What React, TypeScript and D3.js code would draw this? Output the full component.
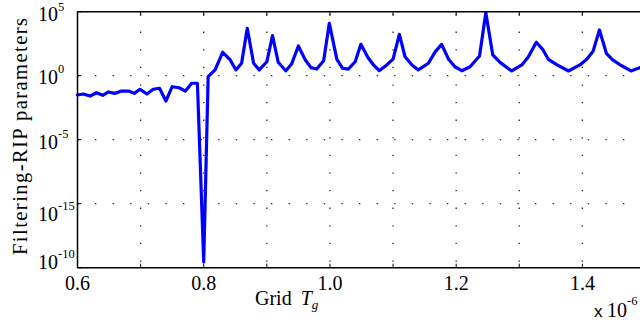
import React from "react";
import * as d3 from "d3";

const W = 640;
const H = 322;

// Grid T_g (x 10^-6)
const xValues = [
  0.6, 0.609, 0.62, 0.63, 0.64, 0.649, 0.659, 0.67, 0.681, 0.69, 0.699, 0.71, 0.72, 0.73, 0.74,
  0.75, 0.761, 0.771, 0.781, 0.79, 0.8, 0.807, 0.818, 0.83, 0.842, 0.851, 0.86, 0.869, 0.879,
  0.888, 0.9, 0.909, 0.918, 0.93, 0.939, 0.95, 0.961, 0.97, 0.979, 0.99, 0.999, 1.011, 1.02,
  1.029, 1.04, 1.049, 1.06, 1.069, 1.078, 1.09, 1.1, 1.11, 1.119, 1.13, 1.14, 1.156, 1.167,
  1.177, 1.188, 1.198, 1.209, 1.222, 1.237, 1.247, 1.258, 1.27, 1.288, 1.304, 1.314, 1.327,
  1.337, 1.346, 1.36, 1.378, 1.396, 1.407, 1.417, 1.427, 1.438, 1.448, 1.462, 1.477, 1.491, 1.5,
];
// log10 of the Filtering-RIP parameter
const log10Values = [
  -1.51, -1.43, -1.59, -1.33, -1.53, -1.27, -1.38, -1.2, -1.2, -1.38, -1.06, -1.43, -1.06, -0.98,
  -1.98, -0.86, -0.94, -1.2, -0.59, -0.59, -14.55, -0.08, 0.45, 1.83, 1.23, 0.45, 0.97, 3.7, 0.97,
  0.45, 1.09, 3.13, 1.05, 0.39, 0.89, 2.32, 1.23, 0.63, 0.52, 1.17, 4.09, 1.28, 0.58, 0.52, 1.09,
  2.45, 1.44, 0.84, 0.39, 0.84, 1.3, 3.23, 1.48, 0.84, 0.45, 0.97, 1.88, 2.45, 1.28, 0.7, 0.39,
  0.7, 1.54, 4.92, 1.62, 1.02, 0.37, 0.84, 1.44, 2.61, 2.06, 1.28, 0.84, 0.37, 0.84, 1.28, 1.92,
  3.57, 1.75, 1.23, 0.78, 0.37, 0.63, 0.8,
];

const xTickValues = [0.6, 0.7, 0.8, 0.9, 1.0, 1.1, 1.2, 1.3, 1.4, 1.5];
const xTickLabels = ["0.6", "", "0.8", "", "1.0", "", "1.2", "", "1.4", ""];
const yTickValues = [1e5, 1, 1e-5, 1e-10, 1e-15];
const yTickExponents = ["5", "0", "-5", "-15", "-10"];

const SERIF = "Liberation Serif, Times New Roman, Tinos, DejaVu Serif, Noto Serif, serif";
const SANS = "Liberation Sans, Arial, sans-serif";

export default function App() {
  const left = 77.5;
  const top = 11.7;
  const bottom = 267.7;
  const x = d3.scaleLinear().domain([0.6, 1.5]).range([left, 645.5]);
  const y = d3.scaleLog().domain([1e-15, 1e5]).range([bottom, top]);

  const data = xValues.map((v, i) => ({ x: v, y: Math.pow(10, log10Values[i]) }));
  const line = d3
    .line<{ x: number; y: number }>()
    .x((d) => x(d.x))
    .y((d) => y(d.y));

  const labelDy = [9.5, 8.3, 9, 17.3, 1.3];
  const supDy = [-10, -11, -11, -11, -11];
  const dots = "1.3 16.3";
  const serifStyle = { fontFamily: SERIF };

  return (
    <svg
      width={W}
      height={H}
      style={{ position: "absolute", left: 0, top: 0, background: "#fff" }}
    >
      <rect x={0} y={0} width={W} height={H} fill="#fff" />
      {xTickValues.slice(1).map((t) => (
        <line
          key={"vg" + t}
          x1={x(t)}
          x2={x(t)}
          y1={bottom}
          y2={top}
          stroke="#222"
          strokeWidth={1.3}
          strokeDasharray={dots}
          strokeDashoffset={-6}
        />
      ))}
      {yTickValues.slice(1, 4).map((t) => (
        <line
          key={"hg" + t}
          x1={left}
          x2={W}
          y1={y(t)}
          y2={y(t)}
          stroke="#222"
          strokeWidth={1.3}
          strokeDasharray={dots}
          strokeDashoffset={-17.5}
        />
      ))}
      <path
        d={line(data) || ""}
        fill="none"
        stroke="#0000ff"
        strokeWidth={3.2}
        strokeLinejoin="round"
        strokeLinecap="round"
      />
      <line x1={left} x2={left} y1={top} y2={bottom} stroke="#000" strokeWidth={1.5} />
      <line x1={left} x2={W} y1={bottom} y2={bottom} stroke="#000" strokeWidth={1.5} />
      <line x1={left} x2={W} y1={top} y2={top} stroke="#000" strokeWidth={1.5} />
      {xTickValues.map((t) => (
        <g key={"xt" + t}>
          <line x1={x(t)} x2={x(t)} y1={bottom} y2={bottom - 4} stroke="#000" strokeWidth={1} />
          <line x1={x(t)} x2={x(t)} y1={top} y2={top + 4} stroke="#000" strokeWidth={1} />
        </g>
      ))}
      {yTickValues.map((t) => (
        <line key={"yt" + t} x1={left} x2={left + 4} y1={y(t)} y2={y(t)} stroke="#000" strokeWidth={1} />
      ))}
      {xTickValues.map((t, i) =>
        xTickLabels[i] ? (
          <text
            key={"xl" + t}
            x={x(t)}
            y={290}
            textAnchor="middle"
            style={serifStyle}
            fontSize={20}
            fill="#000"
          >
            {xTickLabels[i]}
          </text>
        ) : null
      )}
      {yTickValues.map((t, i) => (
        <text key={"yl" + t} x={38} y={y(t) + labelDy[i]} style={serifStyle} fontSize={20} fill="#000">
          10
          <tspan fontSize={12.5} dy={supDy[i]}>
            {yTickExponents[i]}
          </tspan>
        </text>
      ))}
      <text x={255} y={305} style={serifStyle} fontSize={20} fill="#000">
        Grid
        <tspan dx={9} fontStyle="italic">T</tspan>
        <tspan fontStyle="italic" fontSize={13} dy={4}>
          g
        </tspan>
      </text>
      <text x={594} y={316.5} style={{ fontFamily: SANS }} fontSize={17} fill="#000">
        x
      </text>
      <text x={607} y={316.5} style={serifStyle} fontSize={20} fill="#000">
        10
        <tspan fontSize={12.5} dy={-11.5}>
          -6
        </tspan>
      </text>
      <text
        transform={`translate(27,136.5) rotate(-90)`}
        textAnchor="middle"
        style={serifStyle}
        fontSize={20.5}
        textLength={237}
        lengthAdjust="spacing"
        fill="#000"
      >
        Filtering-RIP parameters
      </text>
    </svg>
  );
}
